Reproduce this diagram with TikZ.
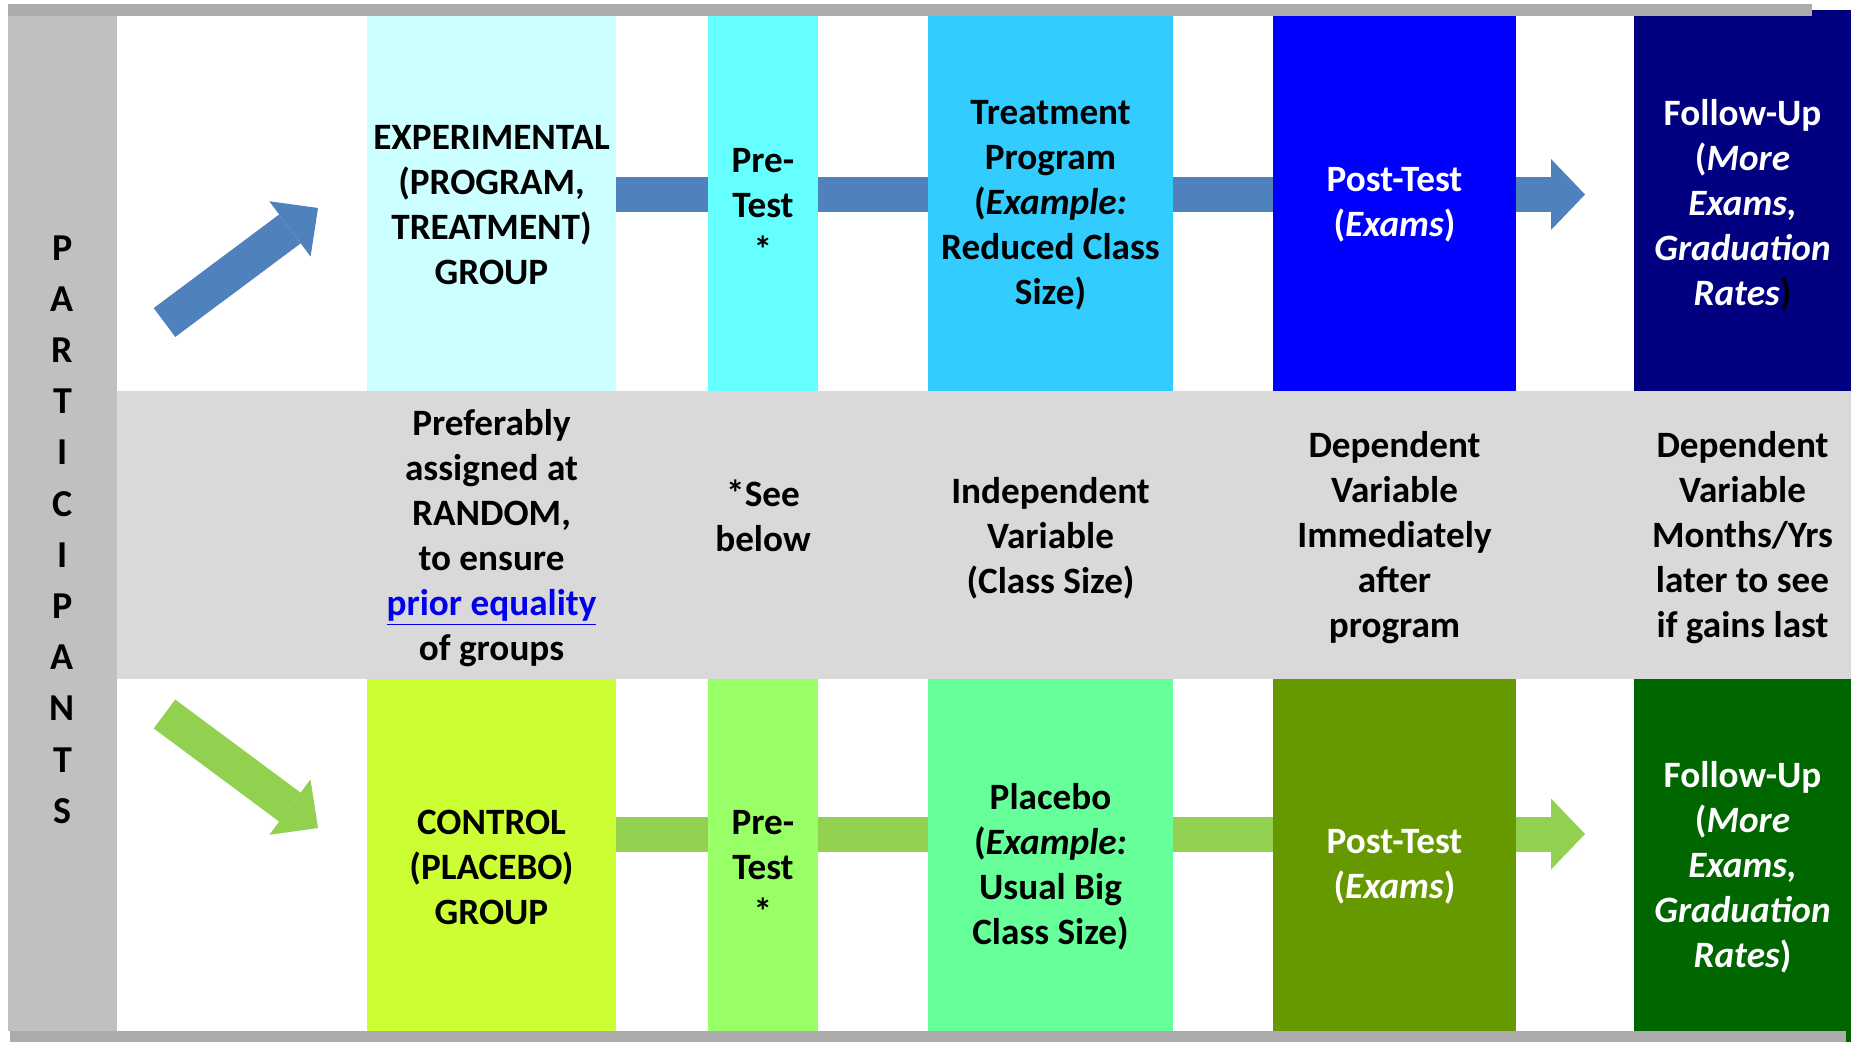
\documentclass[tikz,border=0pt]{standalone}
\usepackage{fontspec}
\setmainfont{Carlito}
\usetikzlibrary{arrows.meta, positioning}

% fills
\definecolor{bargray}{HTML}{ABABAB}
\definecolor{colgray}{HTML}{C0C0C0}
\definecolor{bandgray}{HTML}{D9D9D9}
\definecolor{expgrpc}{HTML}{CCFFFF}
\definecolor{exprec}{HTML}{66FFFF}
\definecolor{extreatc}{HTML}{33CCFF}
\definecolor{expostc}{HTML}{0000FF}
\definecolor{exfollowc}{HTML}{000080}
\definecolor{ctlgrpc}{HTML}{CCFF33}
\definecolor{ctlprec}{HTML}{99FF66}
\definecolor{ctlplacc}{HTML}{66FF99}
\definecolor{ctlpostc}{HTML}{669900}
\definecolor{ctlfollowc}{HTML}{006600}
\definecolor{exarrow}{HTML}{4F81BD}
\definecolor{ctlarrow}{HTML}{92D050}
\definecolor{linkblue}{HTML}{0000EE}

\newcommand{\bigtext}{\fontsize{18.6pt}{22.5pt}\selectfont\bfseries}

\begin{document}
\begin{tikzpicture}[x=0.5pt, y=-0.5pt,
    box/.style={rectangle, inner sep=0pt, align=center, font=\bigtext},
    topbox/.style={box, minimum height=195pt},
    botbox/.style={box, minimum height=188pt},
    note/.style={inner sep=0pt, align=center, font=\bigtext},
    shaft/.style={line width=17.5pt},
    blockarrow/.style={line width=17.5pt, -{Triangle[width=35.5pt, length=17pt, line width=0pt]}},
    slantarrow/.style={line width=18pt, -{Triangle[width=34.5pt, length=17.5pt, line width=0pt]}}]
    \useasboundingbox (0,0) rectangle (1851,1042);
    \fill[white] (0,0) rectangle (1851,1042);

    % left column
    \fill[colgray] (8,16) rectangle (117,1031);
    \node[font=\fontsize{19pt}{25.6pt}\selectfont\bfseries, align=center, inner sep=0pt]
        (participants) at (62.5,529.5) {P\\A\\R\\T\\I\\C\\I\\P\\A\\N\\T\\S};

    % experimental row
    \node[topbox, fill=expgrpc, minimum width=124.5pt] (expgrp) at (491.5,205)
        {EXPERIMENTAL\\(PROGRAM,\\TREATMENT)\\GROUP};
    \node[topbox, fill=exprec, minimum width=55pt] (expre) at (763,205) {Pre-\\Test\\*};
    \node[topbox, fill=extreatc, minimum width=122.5pt] (extreat) at (1050.5,205)
        {Treatment\\Program\\(\textit{Example:}\\Reduced Class\\Size)};
    \node[topbox, fill=expostc, text=white, minimum width=121.5pt] (expost) at (1394.5,205)
        {Post-Test\\(\textit{Exams})};
    \node[topbox, fill=exfollowc, text=white, minimum width=108.5pt] (exfollow) at (1742.5,205)
        {Follow-Up\\(\textit{More}\\\textit{Exams,}\\\textit{Graduation}\\\textit{Rates}\textcolor{black}{)}};

    % control row
    \node[botbox, fill=ctlgrpc, minimum width=124.5pt] (ctlgrp) at (491.5,867)
        {CONTROL\\(PLACEBO)\\GROUP};
    \node[botbox, fill=ctlprec, minimum width=55pt] (ctlpre) at (763,867) {Pre-\\Test\\*};
    \node[botbox, fill=ctlplacc, minimum width=122.5pt] (ctlplac) at (1050.5,867)
        {Placebo\\(\textit{Example:}\\Usual Big\\Class Size)};
    \node[botbox, fill=ctlpostc, text=white, minimum width=121.5pt] (ctlpost) at (1394.5,867)
        {Post-Test\\(\textit{Exams})};
    \node[botbox, fill=ctlfollowc, text=white, minimum width=108.5pt] (ctlfollow) at (1742.5,867)
        {Follow-Up\\(\textit{More}\\\textit{Exams,}\\\textit{Graduation}\\\textit{Rates})};

    % middle band and its notes
    \fill[bandgray] (117,391) rectangle (1851,679);
    \coordinate (band) at (0,538);
    \node[note] (notegrp) at (expgrp |- band)
        {Preferably\\assigned at\\RANDOM,\\to ensure\\\textcolor{linkblue}{\underline{prior equality}}\\of groups};
    \node[note] (notepre) at (763,516) {*See\\below};
    \node[note] (noteiv) at (extreat |- band) {Independent\\Variable\\(Class Size)};
    \node[note] (notedv) at (expost |- band) {Dependent\\Variable\\Immediately\\after\\program};
    \node[note] (notefu) at (exfollow |- band) {Dependent\\Variable\\Months/Yrs\\later to see\\if gains last};

    % arrows
    \coordinate (toprow) at (0,194.5);
    \coordinate (botrow) at (0,834);
    \coordinate (toptip) at (1585,194.5);
    \coordinate (bottip) at (1585,834);
    \coordinate (uptail) at (164.5,322.5);
    \coordinate (uptip) at (318,208);
    \coordinate (dntail) at (164.5,714);
    \coordinate (dntip) at (318,828);

    \draw[slantarrow, exarrow] (uptail) -- (uptip);
    \draw[shaft, exarrow] (expgrp.east |- toprow) -- (expre.west |- toprow);
    \draw[shaft, exarrow] (expre.east |- toprow) -- (extreat.west |- toprow);
    \draw[shaft, exarrow] (extreat.east |- toprow) -- (expost.west |- toprow);
    \draw[blockarrow, exarrow] (expost.east |- toprow) -- (toptip);

    \draw[slantarrow, ctlarrow] (dntail) -- (dntip);
    \draw[shaft, ctlarrow] (ctlgrp.east |- botrow) -- (ctlpre.west |- botrow);
    \draw[shaft, ctlarrow] (ctlpre.east |- botrow) -- (ctlplac.west |- botrow);
    \draw[shaft, ctlarrow] (ctlplac.east |- botrow) -- (ctlpost.west |- botrow);
    \draw[blockarrow, ctlarrow] (ctlpost.east |- botrow) -- (bottip);

    % top and bottom edges
    \fill[bargray] (8,4) rectangle (1812,16);
    \fill[bargray] (10,1031) rectangle (1846,1042);
\end{tikzpicture}
\end{document}
